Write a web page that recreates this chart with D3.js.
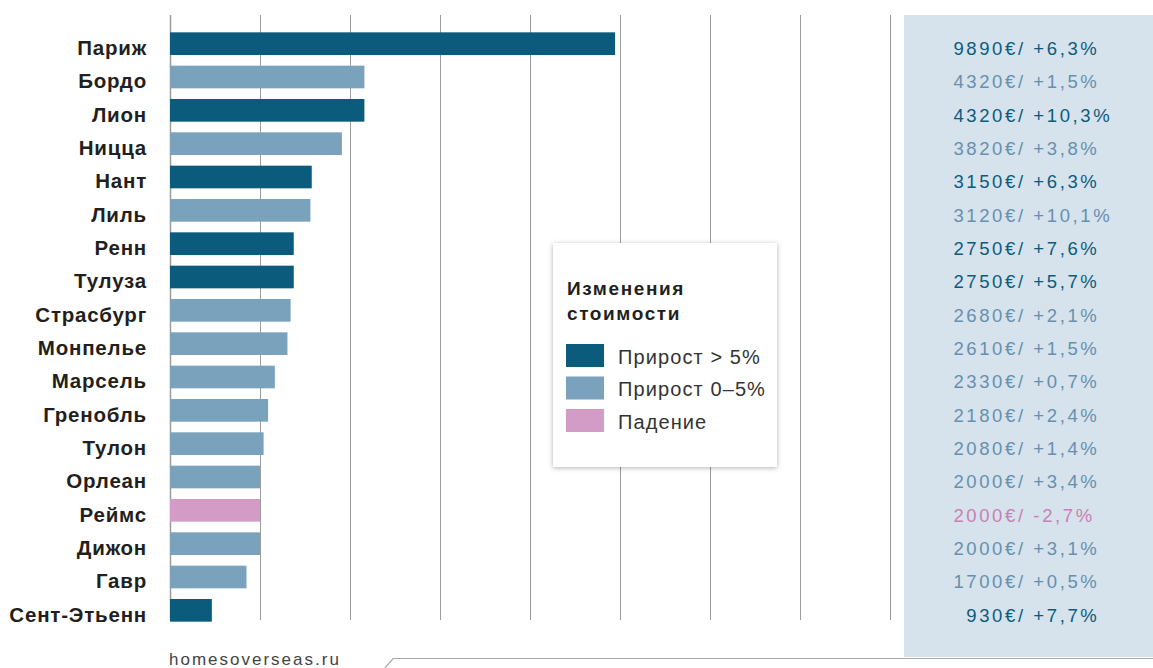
<!DOCTYPE html>
<html>
<head>
<meta charset="utf-8">
<style>
  body { margin: 0; background: #fff; }
  svg { display: block; font-family: "Liberation Sans", Arial, sans-serif; }
</style>
<script src="https://cdn.jsdelivr.net/npm/d3@7"></script>
</head>
<body>
<div id="chart"></div>
<script>
// city names, price per m2 (EUR), yearly change (%), colour group as shown
var cities = ["Париж", "Бордо", "Лион", "Ницца", "Нант", "Лиль", "Ренн", "Тулуза", "Страсбург",
  "Монпелье", "Марсель", "Гренобль", "Тулон", "Орлеан", "Реймс", "Дижон", "Гавр", "Сент-Этьенн"];
var prices = [9890, 4320, 4320, 3820, 3150, 3120, 2750, 2750, 2680, 2610, 2330, 2180, 2080, 2000, 2000, 2000, 1700, 930];
var changes = [6.3, 1.5, 10.3, 3.8, 6.3, 10.1, 7.6, 5.7, 2.1, 1.5, 0.7, 2.4, 1.4, 3.4, -2.7, 3.1, 0.5, 7.7];
// 0 = прирост > 5%, 1 = прирост 0-5%, 2 = падение
var groups = [0, 1, 0, 1, 0, 1, 0, 0, 1, 1, 1, 1, 1, 1, 2, 1, 1, 0];
var gridTicks = [0, 2000, 4000, 6000, 8000, 10000, 12000, 14000, 16000];
var legendTitle = ["Изменения", "стоимости"];
var legendLabels = ["Прирост > 5%", "Прирост 0–5%", "Падение"];

var W = 1153, H = 668;
var barColors = ["#0b5c7c", "#7aa2bc", "#d39cc6"];
var textColors = ["#0b5c7c", "#6690ae", "#c97fb5"];

function fmtChange(c) { return (c >= 0 ? "+" : "") + c.toFixed(1).replace(".", ",") + "%"; }

var svg = d3.select("#chart").append("svg")
  .attr("width", W).attr("height", H);

var x = d3.scaleLinear().domain([0, 16000]).range([170, 890]);
var y = d3.scaleBand().domain(cities).range([27, 627]).paddingInner(0.32).paddingOuter(0.16);

// right panel
svg.append("rect")
  .attr("x", 904).attr("y", 15).attr("width", W - 904).attr("height", 642)
  .attr("fill", "#d6e2ec");

// gridlines
svg.selectAll(".grid").data(gridTicks).enter().append("line")
  .attr("x1", function (d) { return x(d) + 0.5; })
  .attr("x2", function (d) { return x(d) + 0.5; })
  .attr("y1", 15).attr("y2", 620)
  .attr("stroke", "#9c9c9c")
  .attr("stroke-width", function (d, i) { return i == 0 ? 1.5 : 1; });

// bars
svg.selectAll(".bar").data(cities).enter().append("rect")
  .attr("x", x(0))
  .attr("y", function (d) { return y(d); })
  .attr("width", function (d, i) { return x(prices[i]) - x(0); })
  .attr("height", y.bandwidth())
  .attr("fill", function (d, i) { return barColors[groups[i]]; });

// city labels
svg.selectAll(".lab").data(cities).enter().append("text")
  .attr("x", 147)
  .attr("y", function (d) { return y(d) + y.bandwidth(); })
  .attr("text-anchor", "end")
  .attr("font-size", 20.5)
  .attr("font-weight", "bold")
  .attr("letter-spacing", 0.8)
  .attr("fill", "#231f20")
  .text(function (d) { return d; });

// values in the right panel
var vals = svg.selectAll(".val").data(cities).enter().append("g")
  .attr("transform", function (d) { return "translate(0," + (y(d) + y.bandwidth()) + ")"; })
  .attr("fill", function (d, i) { return textColors[groups[i]]; })
  .attr("font-size", 18.5)
  .attr("letter-spacing", 2.6);
vals.append("text")
  .attr("x", 1005).attr("text-anchor", "end")
  .text(function (d, i) { return prices[i]; });
vals.append("text")
  .attr("x", 1005)
  .text(function (d, i) { return "€/ " + fmtChange(changes[i]); });

// legend
var defs = svg.append("defs");
var f = defs.append("filter").attr("id", "shadow").attr("x", "-10%").attr("y", "-10%").attr("width", "120%").attr("height", "120%");
f.append("feDropShadow").attr("dx", 0).attr("dy", 1).attr("stdDeviation", 2.5).attr("flood-color", "#000").attr("flood-opacity", 0.3);

var lg = svg.append("g").attr("transform", "translate(553,243)");
lg.append("rect").attr("width", 224).attr("height", 224).attr("fill", "#fff").attr("filter", "url(#shadow)");
lg.selectAll(".lt").data(legendTitle).enter().append("text")
  .attr("x", 14).attr("y", function (d, i) { return 52 + i * 25; })
  .attr("font-size", 19).attr("font-weight", "bold").attr("letter-spacing", 1.6)
  .attr("fill", "#231f20")
  .text(function (d) { return d; });
var items = lg.selectAll(".li").data(legendLabels).enter().append("g")
  .attr("transform", function (d, i) { return "translate(13," + (101 + i * 32.5) + ")"; });
items.append("rect").attr("width", 38).attr("height", 23)
  .attr("fill", function (d, i) { return barColors[i]; });
items.append("text").attr("x", 52).attr("y", 19.5)
  .attr("font-size", 20).attr("letter-spacing", 1.1).attr("fill", "#333")
  .text(function (d) { return d; });

// source + footer line
svg.append("text")
  .attr("x", 169).attr("y", 665)
  .attr("font-size", 17).attr("letter-spacing", 2).attr("fill", "#444")
  .text("homesoverseas.ru");
svg.append("path")
  .attr("d", "M385,668 L393,658.5 L" + W + ",658.5")
  .attr("fill", "none").attr("stroke", "#a8a8a8").attr("stroke-width", 1.2);
</script>
</body>
</html>
